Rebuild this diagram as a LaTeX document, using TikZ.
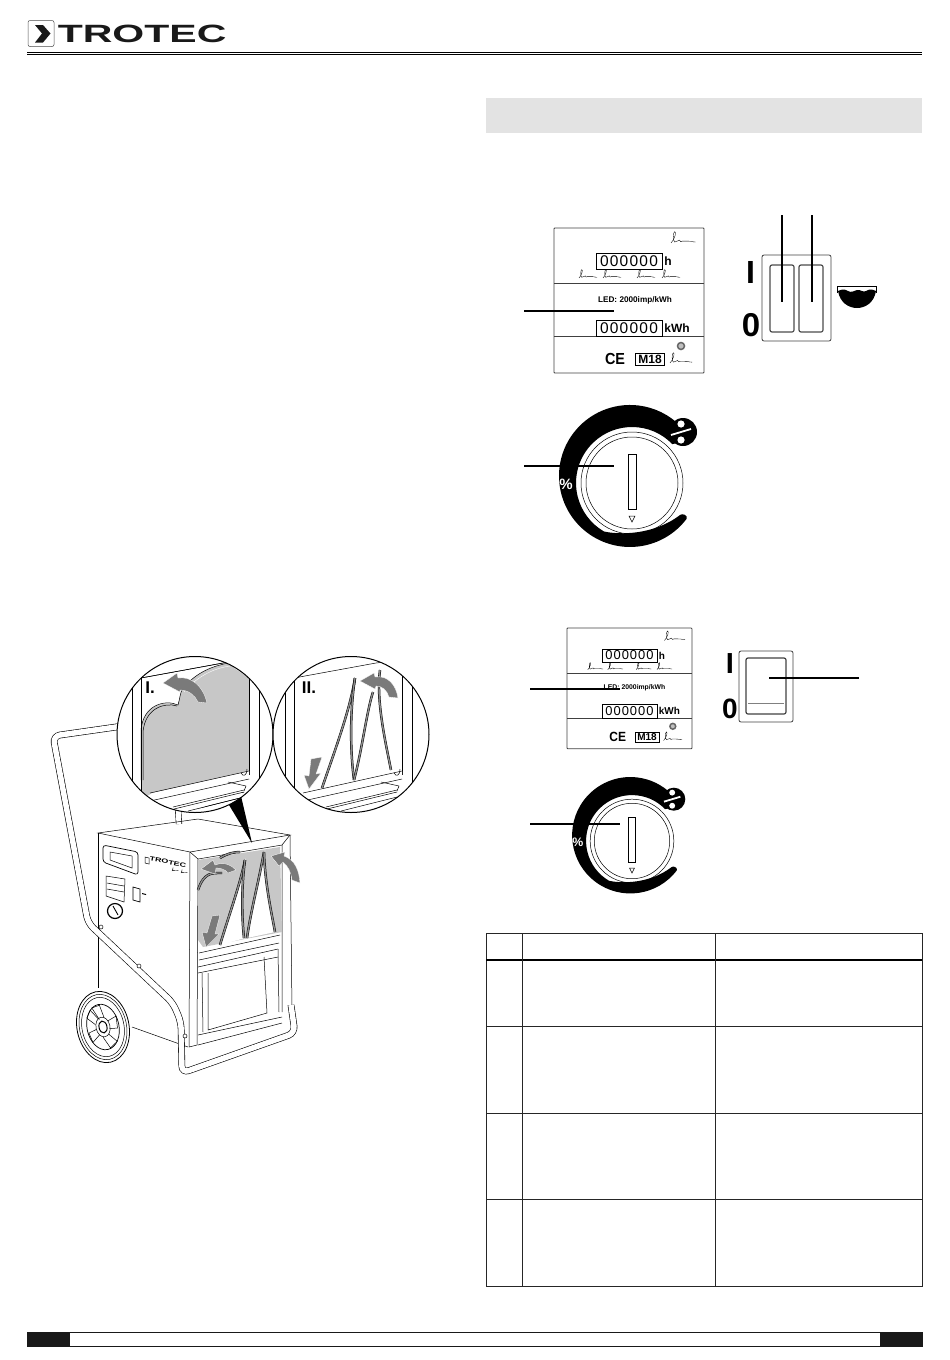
\documentclass[tikz,border=0pt]{standalone}
\usepackage{fontspec}
\setmainfont{Liberation Sans}
\newfontfamily\dispfont[LetterSpace=8]{Liberation Sans}
\newcommand{\boldsize}[1]{\bfseries\fontsize{#1}{#1}\selectfont}
\tikzset{
    thinline/.style = {line width=0.5pt, draw=black},
    gridline/.style = {line width=0.7pt, draw=black!85},
    leader/.style = {line width=1.1pt, draw=black},
    legend/.style = {inner sep=0pt, text=black},
    readout/.style = {rectangle, draw=black, line width=0.5pt, minimum width=66pt, minimum height=16pt, inner sep=0pt, font=\dispfont\fontsize{15.5}{15.5}\selectfont},
    tube/.style = {line width=0.6pt, draw=black, double=white, double distance=5.5pt, rounded corners=7pt},
    strip/.style = {line width=0.5pt, draw=black, double=black!45, double distance=1.4pt},
    curtain/.style = {fill=black!22},
    bendarrow/.style = {fill=black!52, draw=white, line width=0.3pt},
    zoomring/.style = {line width=1pt, draw=black},
    pics/scribble/.style = {code={
        \draw[line width=0.35pt] (0,0) .. controls (4,-4) and (6,-12) .. (4,-12) .. controls (2,-12) and (2,-2) .. (4,-1) .. controls (6,0) and (7,-4) .. (9,-3) .. controls (10,-2) and (10,0) .. (12,-2) .. controls (14,-4) and (14,0) .. (17,-2) .. controls (19,-3) and (21,-1) .. (26,-1);
    }},
    pics/meterunit/.style = {code={
        \draw[line width=0.8pt, draw=black!75, rounded corners=0.8pt] (0,0) rectangle (150,145);
        \draw[line width=0.8pt, draw=black!75] (0,55) -- (150,55);
        \draw[line width=0.8pt, draw=black!75] (0,108) -- (150,108);
        \node (hours) [readout] at (75,33) {000000};
        \node (hourunit) [legend, font=\boldsize{12}] at (114,33) {h};
        \node (ledtext) [legend, font=\boldsize{8.2}] at (81,72) {LED: 2000imp/kWh};
        \node (energy) [readout] at (75,100) {000000};
        \node (energyunit) [legend, font=\boldsize{12}] at (123,100) {kWh};
        \node (cemark) [legend, font=\boldsize{16}, xscale=0.9] at (61,131) {CE};
        \node (mark) [draw=black, line width=0.7pt, inner sep=0pt, minimum width=29pt, minimum height=12pt, font=\boldsize{12}] at (96,131) {M18};
        \draw[line width=1.5pt, draw=black!60, fill=black!25] (127,118) circle[radius=3.5];
        \pic[scale=0.95] at (117,15) {scribble};
        \pic[scale=0.85] at (116,135) {scribble};
        \pic[scale=0.7] at (25,50) {scribble};
        \pic[scale=0.7] at (49,50) {scribble};
        \pic[scale=0.7] at (83,50) {scribble};
        \pic[scale=0.7] at (108,50) {scribble};
    }},
    pics/dialunit/.style = {code={
        \fill (54.7,35.7) arc[start angle=37, end angle=315, radius=71] -- (46,-40) -- (40.3,-38.9) arc[start angle=316, end angle=120, radius=56] .. controls (-12,52) and (22,52) .. (48,32) .. controls (50,30) and (56,32) .. (54.7,35.7) -- cycle;
        \fill (51,-51) circle[radius=14];
        \fill[white] (49,-59) circle[radius=3.6];
        \fill[white] (49,-43) circle[radius=3.6];
        \draw[white, line width=1.8pt] (39,-48) -- (59,-54);
        \node (percent) [legend, text=white, font=\boldsize{15}] at (-66,1) {\%};
        \draw[thinline] (0,0) circle[radius=51];
        \draw[thinline] (0,0) circle[radius=46];
        \draw[thinline] (-4,-29) rectangle (4,26);
        \draw[thinline] (-3,33) -- (3,33) -- (0,39) -- cycle;
    }},
    pics/sashframe/.style = {code={
        \draw[line width=0.7pt] (132,650) -- (132,820);
        \draw[line width=0.7pt] (141,650) -- (141,800);
        \draw[line width=0.7pt] (249,650) -- (249,775);
        \draw[line width=0.7pt] (259,650) -- (259,820);
        \draw[thinline] (141,678) -- (223,663) -- (249,660);
        \fill[white] (152,793) -- (249,771) -- (249,790) -- (190,812) -- (152,812) -- cycle;
        \draw[thinline] (150,793) -- (249,771);
        \draw[thinline] (150,801) -- (249,779);
        \draw[thinline] (228,782) -- (246,786) -- (244,791);
        \draw[thinline] (173,807) -- (244,790);
        \draw[thinline] (174,809) -- (244,792);
        \draw[thinline] (188,811) -- (244,797);
        \draw[thinline] (241,773) .. controls (243,777) and (247,776) .. (247,769);
    }},
}
\begin{document}
\begin{tikzpicture}[x=1pt,y=-1pt]
\useasboundingbox (0,0) rectangle (950,1360);

% page head
\draw[line width=0.5pt, draw=black!70, rounded corners=2pt] (28,20.5) rectangle (54,46.5);
\fill[black!90] (35,25) -- (43,25) -- (50.5,33.5) -- (43,42.5) -- (35,42.5) -- (42,33.5) -- cycle;
\node (brand) [legend, anchor=west, xscale=1.64, font=\boldsize{25}, text=black!90] at (57.5,34) {TROTEC};
\coordinate (headL) at (27,52.3);
\coordinate (headR) at (922,52.3);
\coordinate (headlowL) at (27,54.6);
\coordinate (headlowR) at (922,54.6);
\draw[line width=1.6pt] (headL) -- (headR);
\draw[line width=0.7pt] (headlowL) -- (headlowR);

% page foot
\draw[line width=0.9pt, draw=black!90] (27,1332.5) rectangle (922,1346.5);
\fill[black!90] (27,1332) rectangle (70,1347);
\fill[black!90] (880,1332) rectangle (922,1347);

% grey heading band
\fill[black!11] (486,98) rectangle (922,133);

% first meter and switch
\pic (meterA) at (554,228) {meterunit};
\coordinate (meterAfree) at (524,311);
\coordinate (meterAend) at (614,311);
\draw[leader] (meterAfree) -- (meterAend);

\draw[line width=0.8pt, draw=black!75, rounded corners=2pt] (762,255) rectangle (831,341);
\draw[line width=1.2pt, draw=black!70, rounded corners=2pt] (770,265) rectangle (794,332);
\draw[line width=1.2pt, draw=black!70, rounded corners=2pt] (799,265) rectangle (823,332);
\coordinate (rockerAfree) at (782,215);
\coordinate (rockerAend) at (782,302);
\coordinate (rockerBfree) at (812,215);
\coordinate (rockerBend) at (812,302);
\draw[leader] (rockerAfree) -- (rockerAend);
\draw[leader] (rockerBfree) -- (rockerBend);
\node (onA) [legend, font=\boldsize{32}] at (750.5,272) {I};
\node (offA) [legend, font=\boldsize{33}] at (751,325) {0};

% tank symbol
\draw[line width=0.8pt] (837.5,293) -- (837.5,286) -- (876.5,286) -- (876.5,293);
\fill (838,291) .. controls (842,289) and (845,289) .. (848,291) .. controls (851,293) and (854,291) .. (857,290) .. controls (860,289) and (863,293) .. (866,291) .. controls (869,289) and (872,289) .. (876,291) .. controls (874,303) and (865,308) .. (857,308) .. controls (849,308) and (840,303) .. (838,291) -- cycle;

% first dial
\pic (dialA) at (632,483) {dialunit};
\coordinate (dialAfree) at (524,466);
\coordinate (dialAend) at (614,466);
\draw[leader] (dialAfree) -- (dialAend);

% second meter and switch
\pic (meterB) [scale=0.833, transform shape] at (567,628) {meterunit};
\coordinate (meterBfree) at (530,689);
\coordinate (meterBend) at (620,689);
\draw[leader] (meterBfree) -- (meterBend);

\draw[line width=0.8pt, draw=black!75, rounded corners=2pt] (739,651) rectangle (793,722);
\draw[line width=1.2pt, draw=black!75, rounded corners=2pt] (746,658) rectangle (786,714);
\draw[line width=0.7pt, draw=black!50] (748,703) -- (784,703);
\coordinate (rockerCfree) at (859,678);
\coordinate (rockerCend) at (769,678);
\draw[leader] (rockerCfree) -- (rockerCend);
\node (onB) [legend, font=\boldsize{29}] at (730,663.5) {I};
\node (offB) [legend, font=\boldsize{28}] at (730,709) {0};

% second dial
\pic (dialB) [scale=0.82, transform shape] at (632,841) {dialunit};
\coordinate (dialBfree) at (530,824);
\coordinate (dialBend) at (620,824);
\draw[leader] (dialBfree) -- (dialBend);

% table
\draw[gridline] (486,933) rectangle (922,1286);
\draw[line width=1.2pt] (486,960) -- (922,960);
\draw[gridline] (486,1026) -- (922,1026);
\draw[gridline] (486,1113) -- (922,1113);
\draw[gridline] (486,1199) -- (922,1199);
\draw[gridline] (522,933) -- (522,1286);
\draw[gridline] (715,933) -- (715,1286);

% machine: rear stub of handle and body
\draw[line width=0.6pt, draw=black, double=white, double distance=5pt] (178,808) -- (179,824);
\draw[thinline] (98,833) -- (198,819) -- (290,835) -- (190,852) -- cycle;
\draw[thinline] (98,833) -- (98,988);
\draw[thinline] (132,1027) -- (188,1047);
\draw[thinline] (190,852) -- (189,1047) -- (197,1045);
\draw[thinline] (290,835) -- (292,1010);
\draw[thinline] (198,859) -- (282,845) -- (282,1012);
\draw[thinline] (198,859) -- (197,1045);
\draw[thinline] (190,852) -- (198,859);
\draw[thinline] (290,835) -- (282,845);

% filter in the machine
\fill[curtain] (198,860) -- (280,847) -- (282,932) -- (203,947) -- (198,940) -- cycle;
\draw[strip] (198,890) .. controls (204,872) and (212,873) .. (222,873);
\draw[strip] (220,858) .. controls (228,853) and (235,852) .. (240,852);
\fill[white] (220,945) .. controls (229,915) and (240,885) .. (246,858) .. controls (243,890) and (241,920) .. (245,938) -- cycle;
\fill[white] (247,938) .. controls (251,910) and (258,885) .. (265,850) .. controls (266,885) and (272,915) .. (275,932) -- cycle;
\draw[strip] (220,945) .. controls (229,915) and (240,885) .. (245,860);
\draw[strip] (245,860) .. controls (241,890) and (242,920) .. (244,938);
\draw[strip] (247,938) .. controls (251,910) and (258,885) .. (264,852);
\draw[strip] (264,852) .. controls (265,885) and (272,915) .. (275,932);

% drawer below the filter
\draw[thinline] (199,953) -- (280,935);
\draw[thinline] (199,960) -- (279,943);
\draw[thinline] (198,967) -- (278,949);
\draw[thinline] (198,973) -- (278,957);
\draw[thinline] (208,973) -- (208,1030) -- (267,1013) -- (264,957);
\draw[thinline] (202,973) -- (203,1032);
\draw[thinline] (278,949) -- (279,1012);
\draw[thinline] (198,1035) -- (282,1017);
\draw[thinline] (198,1045) -- (282,1023);

% arrows on the machine
\fill[bendarrow] (201,869) -- (213,860) -- (215,865) .. controls (225,861) and (232,866) .. (236,870) -- (228,873) .. controls (225,869) and (220,868) .. (216,868) -- (215,874) -- cycle;
\fill[bendarrow] (271,856) -- (285,852) -- (284,856) .. controls (295,860) and (299,870) .. (300,883) -- (292,880) .. controls (291,872) and (288,866) .. (283,862) -- (279,866) -- cycle;
\fill[bendarrow] (212,916) -- (220,915) -- (215,934) -- (219,934) -- (206,947) -- (202,932) -- (207,933) -- cycle;

% front panel of the machine
\draw[line width=0.7pt, rounded corners=3pt] (103,845) -- (138,852) -- (138,875) -- (103,862) -- cycle;
\draw[thinline] (110,852) -- (132,856) -- (132,868) -- (110,860) -- cycle;
\draw[thinline] (106,876) -- (125,879) -- (124,902) -- (106,896) -- cycle;
\draw[thinline] (107,883) -- (124,886);
\draw[thinline] (107,889) -- (124,892);
\draw[line width=0.7pt] (133,887) -- (140,889) -- (140,902) -- (133,900) -- cycle;
\fill (142,893) -- (146,894) -- (146,895) -- (142,894) -- cycle;
\draw[line width=1.2pt] (115,911) circle[radius=7.5];
\draw[line width=0.9pt] (113,906) -- (118,915);
\node (minibrand) [legend, rotate=-11, font=\boldsize{6}, xscale=1.5] at (168,862) {TROTEC};
\draw[thinline] (145,857) -- (149,858) -- (149,864) -- (145,863) -- cycle;
\pic[scale=0.25] at (172,871) {scribble};
\pic[scale=0.25] at (181,873) {scribble};

% wheel
\begin{scope}[shift={(103,1027)},rotate=12]
\draw[line width=0.8pt, fill=white] (0,0) circle[x radius=26,y radius=36];
\draw[thinline] (0,0) circle[x radius=23.5,y radius=33];
\draw[thinline] (0,0) circle[x radius=21,y radius=30];
\draw[line width=0.7pt] (0,0) circle[x radius=16,y radius=23];
\draw[thinline] (0,0) circle[x radius=7,y radius=10];
\draw[line width=1pt] (0,0) circle[x radius=4,y radius=6];
\draw[thinline] (-2,-8) -- (-7,-21) -- (1,-22) -- (3,-9);
\draw[thinline] (6,-5) -- (15,-8) -- (14,4) -- (6,3);
\draw[thinline] (4,8) -- (11,17) -- (3,22) -- (-2,10);
\draw[thinline] (-5,7) -- (-13,13) -- (-15,3) -- (-7,1);
\draw[thinline] (-7,-4) -- (-14,-12) -- (-9,-19) -- (-3,-9);
\end{scope}

% handle
\draw[tube] (130,725) -- (53,736) -- (88,923) -- (173,1003) -- (181,1022) -- (182,1073) -- (295,1033) -- (291,1005);
\draw[thinline, fill=white] (101,927) circle[radius=2];
\draw[thinline, fill=white] (139,966) circle[radius=2];
\draw[thinline, fill=white] (185,1036) circle[radius=2];

% pointer from the zoomed view
\fill (226,800) -- (241,796) -- (252,843) -- cycle;

% zoom view I
\fill[white] (195,734.5) circle[radius=78];
\begin{scope}
\clip (195,734.5) circle[radius=78];
\pic (sashA) at (0,0) {sashframe};
\fill[curtain] (141,800) -- (141,730) .. controls (143,705) and (165,700) .. (178,705) .. controls (180,698) and (180,693) .. (182,690) .. controls (195,672) and (215,665) .. (228,664) -- (249,678) -- (249,772) -- (152,793) -- cycle;
\draw[thinline] (141,780) -- (141,730) .. controls (143,705) and (165,699) .. (178,705) .. controls (180,698) and (180,694) .. (182,690) .. controls (195,672) and (215,665) .. (230,663);
\draw[line width=0.4pt, draw=white] (184,692) .. controls (197,676) and (215,668) .. (230,666);
\draw[thinline] (143,780) -- (143,732) .. controls (145,708) and (165,702) .. (177,706);
\pic (sashAfront) at (0,0) {sashframe};
\fill[bendarrow] (163,683) -- (177,673) -- (178,678) .. controls (190,676) and (203,685) .. (207,703) -- (198,702) .. controls (195,695) and (188,690) .. (180,690) -- (180,692) -- cycle;
\node (stepone) [legend, font=\boldsize{17}] at (150,688) {I.};
\end{scope}
\draw[zoomring] (195,734.5) circle[radius=78];

% zoom view II
\fill[white] (351,734.5) circle[radius=78];
\begin{scope}
\clip (351,734.5) circle[radius=78];
\pic (sashB) at (153,0) {sashframe};
\draw[strip] (322,788) .. controls (335,750) and (350,710) .. (355,678);
\draw[strip] (355,678) .. controls (350,710) and (350,750) .. (354,780);
\draw[strip] (354,780) .. controls (362,750) and (367,710) .. (373,692);
\draw[strip] (380,670) .. controls (376,700) and (385,740) .. (391,770);
\fill[bendarrow] (360,681) -- (374,673) -- (375,677) .. controls (388,675) and (396,685) .. (398,698) -- (389,697) .. controls (387,690) and (382,686) .. (376,686) -- (375,689) -- cycle;
\fill[bendarrow] (311,759) -- (322,757) -- (316,774) -- (321,773) -- (309,789) -- (304,775) -- (309,776) -- cycle;
\node (steptwo) [legend, font=\boldsize{17}] at (309,688) {II.};
\end{scope}
\draw[zoomring] (351,734.5) circle[radius=78];
\end{tikzpicture}
\end{document}
